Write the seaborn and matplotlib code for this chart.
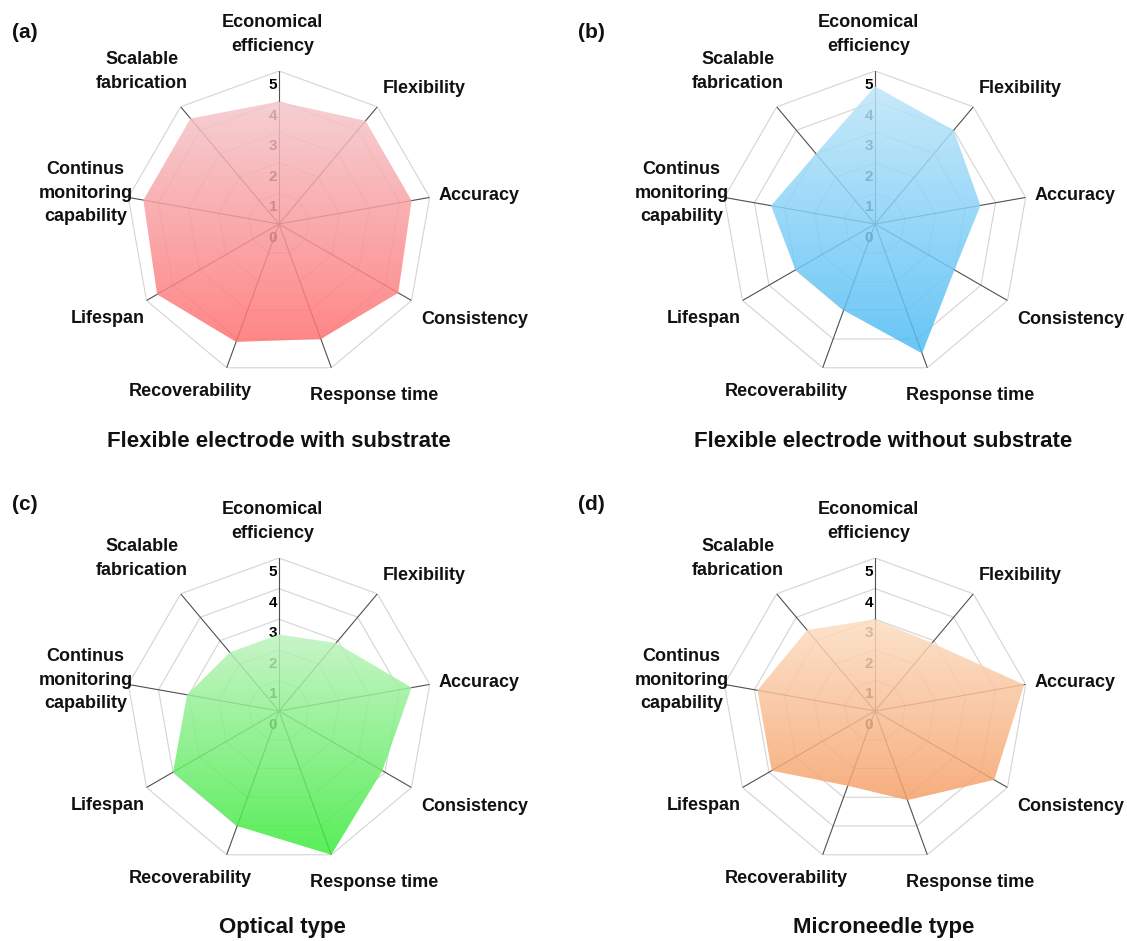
import numpy as np
import matplotlib
matplotlib.use('Agg')
import matplotlib.pyplot as plt
import seaborn as sns
from matplotlib.colors import LinearSegmentedColormap, to_rgb
from matplotlib.transforms import offset_copy

# data
categories = ['Economical\nefficiency', 'Flexibility', 'Accuracy', 'Consistency',
              'Response time', 'Recoverability', 'Lifespan',
              'Continus\nmonitoring\ncapability', 'Scalable\nfabrication']
ticks = [0, 1, 2, 3, 4, 5]

with_substrate = [4.0, 4.4, 4.4, 4.5, 4.0, 4.1, 4.6, 4.5, 4.5]
without_substrate = [4.5, 4.0, 3.5, 3.0, 4.5, 3.0, 3.0, 3.45, 3.0]
optical = [2.5, 2.9, 4.4, 3.9, 5.0, 4.0, 4.0, 3.05, 2.5]
microneedle = [3.0, 2.9, 4.95, 4.5, 3.1, 2.6, 3.9, 3.9, 3.45]

titles = ['Flexible electrode with substrate', 'Flexible electrode without substrate',
          'Optical type', 'Microneedle type']
letters = ['(a)', '(b)', '(c)', '(d)']
top_colors = ['#f6d0d4', '#c8eafa', '#c8f5c8', '#fde3cc']
bottom_colors = ['#ff8686', '#68c6f6', '#58ee58', '#f7ae7e']

sns.set_style('white')
plt.rcParams['font.family'] = ['Liberation Sans', 'DejaVu Sans']

W, H, R = 1127, 941, 153
centers = [(279, 224), (875, 224), (279, 711), (875, 711)]
title_x = [279, 883, 282, 884]
letter_pos = [(25, 32), (591, 32), (25, 505), (591, 505)]
# where the category labels sit (degrees clockwise from top, radius in data units)
lab_ang = [-2, 47, 82, 116, 151, 208, 241, 279, 318]
lab_r = [6.2, 6.5, 6.6, 7.1, 6.4, 6.2, 6.4, 6.4, 6.7]

ALPHA = 0.85


def base(c):
    # colour that gives c when drawn with ALPHA over white
    return tuple(max(0, (v - (1 - ALPHA)) / ALPHA) for v in to_rgb(c))


fig = plt.figure(figsize=(W / 100, H / 100), dpi=100)
fig.patch.set_facecolor('white')

series = [with_substrate, without_substrate, optical, microneedle]
angles = np.linspace(0, 2 * np.pi, len(categories), endpoint=False)
closed_ang = np.append(angles, angles[0])

for i, vals in enumerate(series):
    cx, cy = centers[i]
    rect = [(cx - R) / W, (H - cy - R) / H, 2 * R / W, 2 * R / H]
    ax = fig.add_axes(rect, projection='polar')
    ax.set_theta_zero_location('N')
    ax.set_theta_direction(-1)
    ax.set_ylim(0, 5)
    ax.grid(False)
    ax.set_xticks([])
    ax.set_yticks([])
    ax.spines['polar'].set_visible(False)

    for r in ticks[1:]:
        ax.plot(closed_ang, [r] * len(closed_ang), color='#d4d4d4', lw=0.8, zorder=1)
    for a in angles:
        ax.plot([a, a], [0, 5], color='#505050', lw=0.8, zorder=2)

    tr = offset_copy(ax.transData, fig=fig, x=-2, y=-14, units='dots')
    for t in ticks:
        ax.text(0, t, str(t), transform=tr, ha='right', va='center',
                fontsize=11, fontweight='bold', color='black', zorder=3)

    for k, cat in enumerate(categories):
        ax.text(np.deg2rad(lab_ang[k]), lab_r[k], cat, ha='center', va='center',
                fontsize=13, fontweight='bold', linespacing=1.5, color='#111111')

    poly = ax.fill(closed_ang, np.append(vals, vals[0]), facecolor='none',
                   edgecolor='none')[0]

    # gradient fill clipped to the polygon
    cax = fig.add_axes(rect)
    cax.axis('off')
    bb = poly.get_window_extent()
    (x0, y0), (x1, y1) = cax.transAxes.inverted().transform([[bb.x0, bb.y0], [bb.x1, bb.y1]])
    cmap = LinearSegmentedColormap.from_list('g', [base(top_colors[i]), base(bottom_colors[i])])
    im = cax.imshow(np.linspace(0, 1, 256)[:, None], extent=[x0, x1, y0, y1],
                    origin='upper', cmap=cmap, aspect='auto', alpha=ALPHA,
                    interpolation='bilinear')
    im.set_clip_path(poly)
    cax.set_xlim(0, 1)
    cax.set_ylim(0, 1)

    fig.text(title_x[i] / W, 1 - (cy + 217) / H, titles[i], ha='center', va='center',
             fontsize=16, fontweight='bold', color='#111111')
    lx, ly = letter_pos[i]
    fig.text(lx / W, 1 - ly / H, letters[i], ha='center', va='center',
             fontsize=15, fontweight='bold', color='#111111')

fig.savefig('out.png', dpi=100, facecolor='white')
